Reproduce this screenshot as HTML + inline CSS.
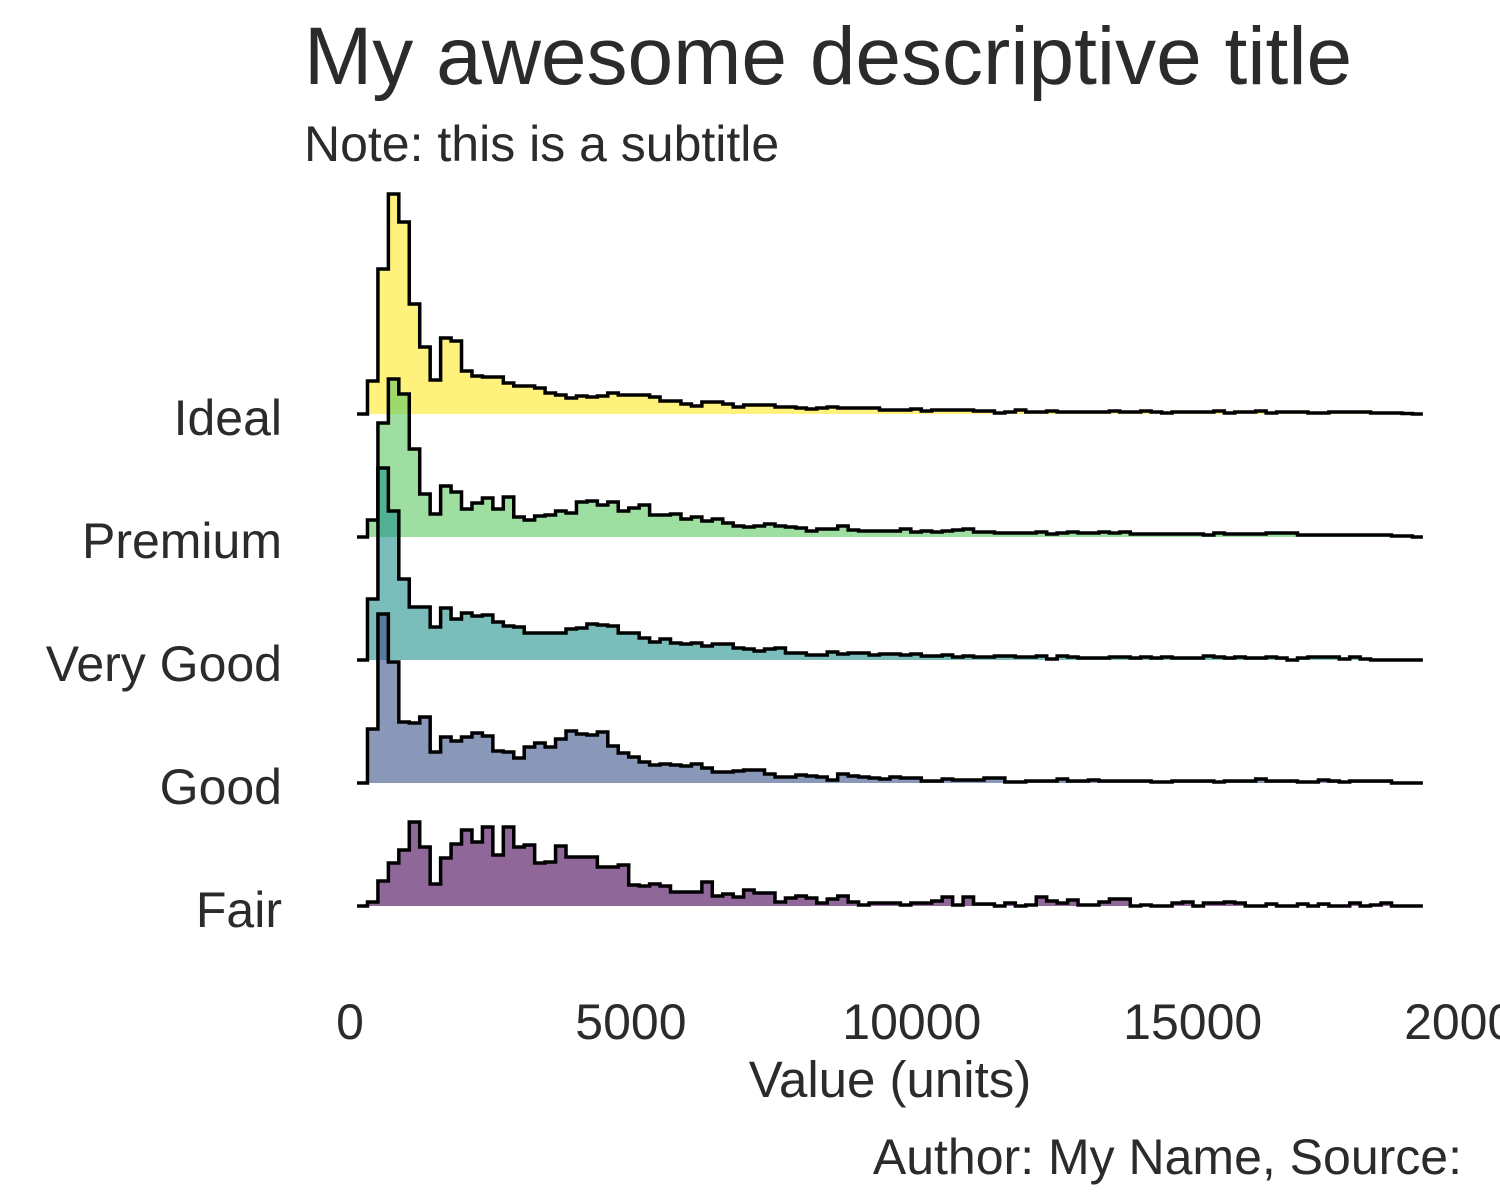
<!DOCTYPE html>
<html><head><meta charset="utf-8"><style>
body{margin:0;background:#fff;}
svg{display:block;font-family:"Liberation Sans",Arial,sans-serif;}
</style></head><body>
<svg id="chart" width="1500" height="1200" viewBox="0 0 1500 1200" xmlns="http://www.w3.org/2000/svg">
<text x="304" y="84" font-size="82" fill="#2b2b2b">My awesome descriptive title</text>
<text x="304" y="161" font-size="50" fill="#2b2b2b">Note: this is a subtitle</text>
<g id="ridges"></g>
<g id="ylabels"></g>
<g id="xlabels"></g>
<text x="890" y="1097" font-size="51" fill="#2b2b2b" text-anchor="middle">Value (units)</text>
<text x="1462" y="1174" font-size="50" fill="#2b2b2b" text-anchor="end">Author: My Name, Source:</text>
</svg>
<script>
const categories = ["Fair","Good","Very Good","Premium","Ideal"];
const fills = ["#440154","#3b528b","#21918c","#5ec962","#fde725"];
const binStart = 125;
const binWidth = 186;
const xTicks = [0,5000,10000,15000,20000];
const ideal = [0,33,145,220,192,110,67,34,76,73,43,38,37,37,31,28,28,26,21,19,16,18,17,18,21,19,19,19,17,13,13,
10,8,12,12,10,7,9,9,9,7,7,6,5,6,7,6,6,6,6,4,4,4,5,3,4,4,4,4,3,3,1,2,4,2,2,
3,2,2,2,2,2,3,2,2,3,2,1,2,2,2,2,3,1,2,2,3,1,2,2,2,1,1,2,2,2,2,1,1,1,0.5,0];
const premium = [0,17,114,158,143,88,43,23,51,45,28,34,39,28,40,20,17,21,22,26,24,35,36,32,35,26,29,32,22,22,23,
18,20,16,18,14,11,10,11,13,11,10,9,6,8,8,11,7,6,6,6,6,8,5,6,5,6,7,8,5,5,4,4,4,4,5,
3,4,5,4,4,5,4,5,3,3,3,3,3,3,3,2,4,3,3,3,3,4,4,4,2,2,2,2,2,2,2,2,2,1,1,0];
const veryGood = [0,61,192,149,81,53,53,33,52,41,47,44,45,38,34,33,27,27,27,27,31,32,36,35,34,27,27,22,18,21,17,
16,17,14,16,16,12,11,9,11,12,7,7,5,5,8,6,7,7,5,6,6,5,6,4,4,5,3,4,3,3,4,4,3,3,4,
1,4,3,2,2,2,3,3,2,3,2,3,2,2,2,4,3,2,3,2,2,3,2,0,2,3,3,3,1,3,1,0,0,0,0,0];
const good = [0,54,169,121,61,60,66,31,46,42,46,50,47,32,31,25,36,40,36,44,52,49,48,51,37,30,26,21,18,19,18,
17,19,15,11,11,12,13,13,9,6,6,8,7,6,3,9,7,6,5,4,6,5,5,2,2,4,3,3,3,5,5,1,1,2,2,
2,4,2,2,3,2,2,2,2,2,1,1,2,2,2,2,1,2,2,2,4,2,2,2,1,1,3,2,1,2,2,2,2,0,0,0];
const fair = [0,4,25,43,56,84,59,22,48,62,76,64,79,51,79,59,61,43,44,60,49,49,49,39,39,41,21,20,22,20,14,
14,14,24,10,12,9,16,13,13,4,8,10,8,3,7,10,4,1,3,3,3,1,3,3,5,9,1,9,2,2,0,3,0,1,9,
5,3,6,1,1,4,7,7,0,1,0,0,3,4,0,3,3,4,3,0,0,2,0,0,2,0,2,0,0,3,0,1,3,0,0,0];
const series = [fair, good, veryGood, premium, ideal];

const x0px = 350, pxPerUnit = 0.05618;
function xScale(v){ return x0px + v*pxPerUnit; }
const baseTop = 414, rowGap = 123;
function baseline(i){ return baseTop + (categories.length-1-i)*rowGap; }
function yScale(i, h){ return baseline(i) - h; }

const NS = "http://www.w3.org/2000/svg";
const ridges = document.getElementById('ridges');
for (let i = categories.length-1; i >= 0; i--) {
  const vals = series[i];
  const b = baseline(i);
  let d = "M" + xScale(binStart).toFixed(2) + "," + b;
  vals.forEach((v, k) => {
    const xa = xScale(binStart + k*binWidth), xb = xScale(binStart + (k+1)*binWidth);
    const y = yScale(i, v);
    d += " L" + xa.toFixed(2) + "," + y.toFixed(2) + " L" + xb.toFixed(2) + "," + y.toFixed(2);
  });
  const xe = xScale(binStart + vals.length*binWidth);
  const area = document.createElementNS(NS, 'path');
  area.setAttribute('d', d + " L" + xe.toFixed(2) + "," + b + " Z");
  area.setAttribute('fill', fills[i]);
  area.setAttribute('fill-opacity', '0.6');
  
  
  ridges.appendChild(area);
  const line = document.createElementNS(NS, 'path');
  line.setAttribute('d', d + " L" + xe.toFixed(2) + "," + b);
  line.setAttribute('fill', 'none');
  line.setAttribute('stroke', '#000');
  line.setAttribute('stroke-width', '3.5');
  
  
  ridges.appendChild(line);
}
const yl = document.getElementById('ylabels');
categories.forEach((c, i) => {
  const t = document.createElementNS(NS, 'text');
  t.setAttribute('x', 282);
  t.setAttribute('y', baseline(i) + 21);
  t.setAttribute('font-size', '50');
  t.setAttribute('fill', '#2b2b2b');
  t.setAttribute('text-anchor', 'end');
  
  
  t.textContent = c;
  yl.appendChild(t);
});
const xl = document.getElementById('xlabels');
xTicks.forEach(v => {
  const t = document.createElementNS(NS, 'text');
  t.setAttribute('x', xScale(v));
  t.setAttribute('y', 1039);
  t.setAttribute('font-size', '50');
  t.setAttribute('fill', '#2b2b2b');
  t.setAttribute('text-anchor', 'middle');
  
  
  t.textContent = v;
  xl.appendChild(t);
});
</script>
</body></html>
